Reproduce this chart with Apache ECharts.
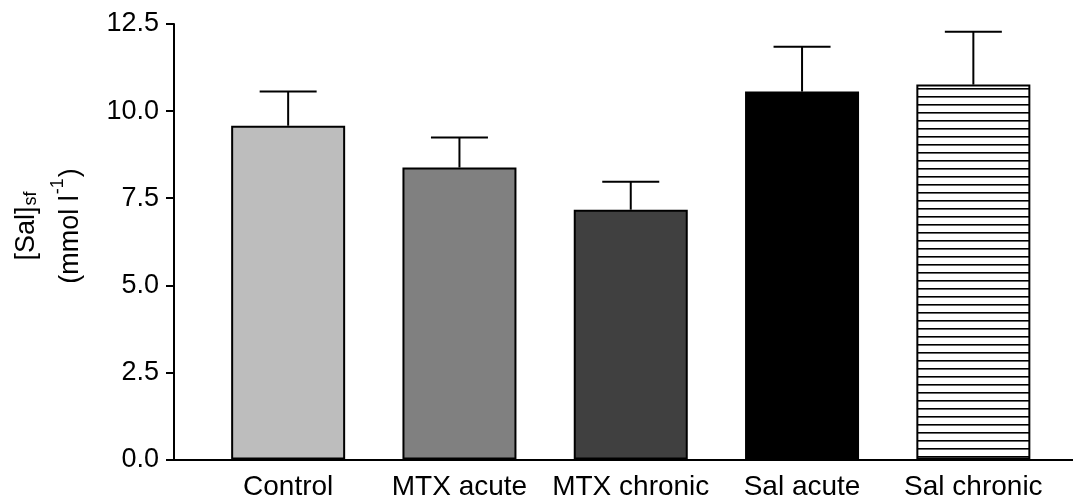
<!DOCTYPE html>
<html>
<head>
<meta charset="utf-8">
<script src="https://cdn.jsdelivr.net/npm/echarts@6/dist/echarts.min.js"></script>
<style>
  html, body { margin: 0; padding: 0; background: #fff; }
  #grafico { width: 1073px; height: 504px; }
</style>
</head>
<body>
<div id="grafico"></div>
<script>
// datos
const categorias = ['Control', 'MTX acute', 'MTX chronic', 'Sal acute', 'Sal chronic'];
const medias = [9.58, 8.38, 7.17, 10.56, 10.76];
const errores = [0.98, 0.86, 0.80, 1.29, 1.52];
const ticksY = [0, 2.5, 5, 7.5, 10, 12.5];

const fuente = '"Liberation Sans", Arial, sans-serif';

// patron de rayas horizontales para 'Sal chronic'
function rayas() {
  const c = document.createElement('canvas');
  c.width = 8; c.height = 8;
  const ctx = c.getContext('2d');
  ctx.fillStyle = '#fff';
  ctx.fillRect(0, 0, 8, 8);
  ctx.fillStyle = '#000';
  ctx.fillRect(0, 0, 8, 1.6);
  return c;
}

const colores = ['#bdbdbd', '#808080', '#404040', '#000000', { image: rayas(), repeat: 'repeat' }];

document.addEventListener('DOMContentLoaded', function () {
  const chart = echarts.init(document.getElementById('grafico'));

  const opciones = {
    animation: false,
    backgroundColor: '#fff',
    grid: [
      { left: 174, right: 0, top: 24, bottom: 44.5 },
      { left: 202.5, right: 14, top: 24, bottom: 44.5 }
    ],
    xAxis: [
      {
        gridIndex: 0, type: 'value', min: 0, max: 1,
        axisLine: { show: true, lineStyle: { color: '#000', width: 2 } },
        axisTick: { show: false }, axisLabel: { show: false }, splitLine: { show: false }
      },
      {
        gridIndex: 1, type: 'category', data: categorias,
        axisLine: { show: false }, axisTick: { show: false },
        axisLabel: { color: '#000', fontFamily: fuente, fontSize: 28, margin: 14, interval: 0 }
      }
    ],
    yAxis: [
      {
        gridIndex: 0, type: 'value', min: ticksY[0], max: ticksY[ticksY.length - 1], interval: 2.5,
        axisLine: { show: true, lineStyle: { color: '#000', width: 2 } },
        axisTick: { show: true, length: 8, lineStyle: { color: '#000', width: 2 } },
        axisLabel: {
          color: '#000', fontFamily: fuente, fontSize: 27, margin: 15,
          formatter: v => v.toFixed(1)
        },
        splitLine: { show: false }
      },
      {
        gridIndex: 1, type: 'value', min: 0, max: 12.5, show: false
      }
    ],
    graphic: [
      {
        type: 'text',
        x: 27, y: 226,
        rotation: Math.PI / 2,
        style: {
          text: '{a|[Sal]}{sub|sf}',
          align: 'center',
          verticalAlign: 'middle',
          rich: {
            a: { fontFamily: fuente, fontSize: 27, fill: '#000' },
            sub: { fontFamily: fuente, fontSize: 18, fill: '#000', verticalAlign: 'bottom', padding: [8, 0, 0, 1] }
          }
        }
      },
      {
        type: 'text',
        x: 71, y: 226,
        rotation: Math.PI / 2,
        style: {
          text: '{a|(mmol l}{sup|-1}{a|)}',
          align: 'center',
          verticalAlign: 'middle',
          rich: {
            a: { fontFamily: fuente, fontSize: 27, lineHeight: 44, fill: '#000' },
            sup: { fontFamily: fuente, fontSize: 18, lineHeight: 18, fill: '#000', verticalAlign: 'top', padding: [0, 1, 0, 1] }
          }
        }
      }
    ],
    series: [
      {
        type: 'bar',
        xAxisIndex: 1, yAxisIndex: 1,
        barWidth: 114,
        data: medias.map((v, i) => ({
          value: v,
          itemStyle: { color: colores[i] }
        })),
        itemStyle: { borderColor: '#000', borderWidth: 2 },
        z: 2
      },
      {
        type: 'custom',
        xAxisIndex: 1, yAxisIndex: 1,
        data: medias.map((v, i) => [i, v, v + errores[i]]),
        renderItem: function (params, api) {
          const base = api.coord([api.value(0), api.value(1)]);
          const tope = api.coord([api.value(0), api.value(2)]);
          const cap = 57;
          return {
            type: 'group',
            children: [
              { type: 'line', shape: { x1: base[0], y1: base[1], x2: tope[0], y2: tope[1] }, style: { stroke: '#000', lineWidth: 2 } },
              { type: 'line', shape: { x1: tope[0] - cap / 2, y1: tope[1], x2: tope[0] + cap / 2, y2: tope[1] }, style: { stroke: '#000', lineWidth: 2 } }
            ]
          };
        },
        z: 3
      }
    ]
  };

  chart.setOption(opciones);
});
</script>
</body>
</html>
